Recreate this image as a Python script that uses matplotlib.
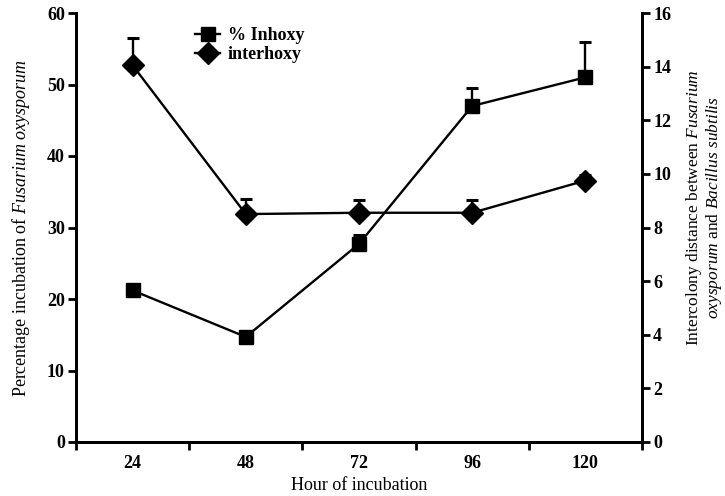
import numpy as np
import matplotlib.pyplot as plt
from matplotlib.lines import Line2D

plt.rcParams['font.family'] = ['Liberation Serif', 'DejaVu Serif']
plt.rcParams['mathtext.fontset'] = 'custom'
plt.rcParams['mathtext.rm'] = 'Liberation Serif'
plt.rcParams['mathtext.it'] = 'Liberation Serif:italic'

# данные
hours = ['24', '48', '72', '96', '120']
inhoxy = [21.2, 14.7, 27.7, 47.0, 51.0]       # % ингибирования, левая ось
inhoxy_err = [0.4, 0.4, 1.2, 2.5, 5.0]
interhoxy = [14.05, 8.5, 8.55, 8.55, 9.75]    # расстояние, правая ось
interhoxy_err = [1.0, 0.55, 0.47, 0.47, 0.2]

x = np.arange(len(hours))

fig = plt.figure(figsize=(7.25, 4.96), dpi=100)
ax = fig.add_axes([76 / 725, 1 - 442 / 496, 566 / 725, 429 / 496])
ax2 = ax.twinx()

ax.errorbar(x, inhoxy, yerr=[np.zeros(len(x)), inhoxy_err], color='black',
            marker='s', ms=10, lw=1.7, capsize=4.5, capthick=2.2, elinewidth=1.7)
ax2.errorbar(x, interhoxy, yerr=[np.zeros(len(x)), interhoxy_err], color='black',
             marker='D', ms=11, lw=1.7, capsize=4.5, capthick=2.2, elinewidth=1.7)

ax.set_xlim(-0.5, len(hours) - 0.5)
ax.set_ylim(0, 60)
ax2.set_ylim(0, 16)
ax.set_yticks(np.arange(0, 61, 10))
ax2.set_yticks(np.arange(0, 17, 2))

# тики на границах категорий, подписи по центру
ax.set_xticks(np.arange(-0.5, len(hours), 1))
ax.set_xticklabels([])
ax.set_xticks(x, minor=True)
ax.set_xticklabels(hours, minor=True)
ax.tick_params(axis='x', which='minor', length=0, pad=9)

for a in (ax, ax2):
    a.spines['top'].set_visible(False)
    for s in a.spines.values():
        s.set_linewidth(2)
    a.tick_params(which='major', direction='out', length=6, width=2, labelsize=13)
    for lab in a.get_xticklabels(minor=True) + a.get_yticklabels():
        lab.set_fontweight('bold')
ax.tick_params(axis='x', which='minor', labelsize=13)
ax.tick_params(axis='y', pad=2)
ax2.tick_params(axis='y', pad=2)

ax.set_xlabel('Hour of incubation', fontsize=13, labelpad=4)
ax.set_ylabel(r'Percentage incubation of $\it{Fusarium}$ $\it{oxysporum}$', fontsize=13, labelpad=11)
fig.text(704 / 725, 1 - 208 / 496,
         'Intercolony distance between $\\it{Fusarium}$\n$\\it{oxysporum}$ and $\\it{Bacillus}$ $\\it{subtilis}$',
         rotation=90, ha='center', va='center', multialignment='center', fontsize=12.5, linespacing=0.95)

handles = [Line2D([], [], color='black', marker='s', ms=10, lw=1.7),
           Line2D([], [], color='black', marker='D', ms=11, lw=1.7)]
leg = fig.legend(handles, ['% Inhoxy', 'interhoxy'], loc='upper left',
                 bbox_to_anchor=(186 / 725, 1 - 18 / 496), frameon=False,
                 handlelength=1.4, handletextpad=0.4, labelspacing=0.1,
                 borderpad=0, prop={'size': 13, 'weight': 'bold'})

fig.savefig('out.png', dpi=100)
